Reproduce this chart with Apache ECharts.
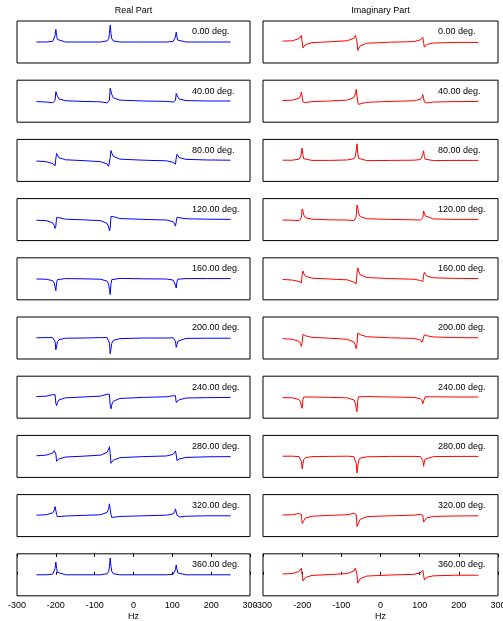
<!DOCTYPE html>
<html>
<head>
<meta charset="utf-8">
<script src="https://cdn.jsdelivr.net/npm/echarts@6/dist/echarts.min.js"></script>
<style>
html,body{margin:0;padding:0;background:#fff;}
#chart{width:503px;height:621px;}
</style>
</head>
<body>
<div id="chart"></div>
<script>
// ---- data ----
const hz = [-250,-225,-208,-204,-202,-200,-198,-196,-192,-175,-130,-85,-68,-64,-62,-60,-58,-56,-52,-35,25,85,102,106,108,110,112,114,118,135,190,250];
const xTicks = [-300,-200,-100,0,100,200,300];
const phases = [0,40,80,120,160,200,240,280,320,360];
const phaseLabels = ['0.00 deg.','40.00 deg.','80.00 deg.','120.00 deg.','160.00 deg.','200.00 deg.','240.00 deg.','280.00 deg.','320.00 deg.','360.00 deg.'];
const columnTitles = ['Real Part','Imaginary Part'];
const axisName = 'Hz';

const real0   = [0,0,0.03,0.12,0.3,0.6,0.3,0.12,0.03,0,0,0,0.05,0.16,0.4,0.8,0.4,0.16,0.05,0,0,0,0.03,0.09,0.24,0.47,0.24,0.09,0.03,0,0,0];
const real40  = [-0.02,-0.04,-0.07,-0.07,0.03,0.45,0.41,0.24,0.11,0.02,-0.01,-0.03,-0.08,-0.08,0.05,0.62,0.57,0.33,0.16,0.05,0.01,-0.01,-0.04,-0.04,0.04,0.37,0.34,0.2,0.1,0.03,0.01,0.01];
const real80  = [-0.03,-0.06,-0.15,-0.23,-0.26,0.09,0.33,0.24,0.13,0.03,-0.01,-0.06,-0.17,-0.28,-0.32,0.14,0.47,0.35,0.2,0.06,0.01,-0.02,-0.09,-0.16,-0.18,0.1,0.29,0.22,0.13,0.05,0.02,0.01];
const real120 = [-0.03,-0.05,-0.15,-0.28,-0.42,-0.31,0.1,0.14,0.09,0.02,-0.01,-0.05,-0.18,-0.35,-0.54,-0.4,0.15,0.2,0.14,0.05,0.01,-0.02,-0.1,-0.2,-0.31,-0.22,0.1,0.13,0.09,0.04,0.02,0.01];
const real160 = [-0.01,-0.02,-0.09,-0.2,-0.39,-0.57,-0.18,-0.04,0.01,0.01,0,-0.02,-0.11,-0.26,-0.51,-0.75,-0.24,-0.04,0.02,0.02,0,-0.01,-0.06,-0.15,-0.3,-0.44,-0.14,-0.02,0.02,0.01,0.01,0.01];
const real200 = [0.01,0.02,0.02,-0.03,-0.17,-0.56,-0.38,-0.19,-0.08,-0.01,0,0.02,0.02,-0.04,-0.24,-0.75,-0.51,-0.26,-0.11,-0.03,0,0,0.01,-0.03,-0.15,-0.45,-0.31,-0.16,-0.07,-0.02,-0.01,-0.01];
const real240 = [0.03,0.05,0.12,0.16,0.12,-0.29,-0.4,-0.26,-0.13,-0.03,0.01,0.05,0.14,0.19,0.14,-0.4,-0.55,-0.36,-0.19,-0.06,-0.01,0.02,0.07,0.1,0.07,-0.25,-0.33,-0.22,-0.12,-0.04,-0.02,-0.01];
const real280 = [0.03,0.06,0.16,0.27,0.36,0.12,-0.23,-0.2,-0.12,-0.03,0.01,0.06,0.19,0.34,0.46,0.14,-0.33,-0.29,-0.18,-0.06,-0.01,0.02,0.1,0.19,0.26,0.07,-0.2,-0.18,-0.12,-0.05,-0.02,-0.01];
const real320 = [0.02,0.04,0.13,0.26,0.43,0.47,0.05,-0.05,-0.05,-0.02,0.01,0.04,0.15,0.33,0.56,0.61,0.05,-0.09,-0.09,-0.04,-0.01,0.02,0.08,0.18,0.32,0.35,0.02,-0.06,-0.06,-0.03,-0.01,-0.01];
const real360 = [0,0,0.03,0.12,0.3,0.6,0.3,0.12,0.03,0,0,0,0.05,0.16,0.4,0.8,0.4,0.16,0.05,0,0,0,0.03,0.09,0.24,0.47,0.24,0.09,0.03,0,0,0];

const imag0   = [0.04,0.06,0.16,0.25,0.31,0.01,-0.29,-0.23,-0.13,-0.03,0.01,0.06,0.18,0.32,0.4,0,-0.4,-0.32,-0.19,-0.06,-0.01,0.02,0.1,0.17,0.22,-0.01,-0.25,-0.2,-0.12,-0.05,-0.02,-0.02];
const imag40  = [0.03,0.05,0.14,0.27,0.43,0.4,-0.03,-0.1,-0.07,-0.02,0.01,0.05,0.17,0.35,0.56,0.51,-0.05,-0.15,-0.12,-0.05,-0.01,0.02,0.09,0.19,0.32,0.29,-0.04,-0.09,-0.08,-0.04,-0.02,-0.01];
const imag80  = [0.01,0.01,0.06,0.16,0.35,0.59,0.25,0.08,0.01,0,0,0.02,0.08,0.21,0.46,0.79,0.32,0.1,0.01,-0.01,0,0.01,0.04,0.12,0.27,0.46,0.19,0.06,0.01,-0.01,0,0];
const imag120 = [-0.02,-0.03,-0.05,-0.02,0.1,0.51,0.4,0.22,0.09,0.02,-0.01,-0.02,-0.05,-0.02,0.15,0.69,0.55,0.3,0.14,0.04,0.01,-0.01,-0.02,-0.01,0.09,0.41,0.33,0.18,0.09,0.03,0.01,0.01];
const imag160 = [-0.03,-0.06,-0.13,-0.2,-0.19,0.19,0.37,0.25,0.13,0.03,-0.01,-0.05,-0.16,-0.24,-0.24,0.28,0.52,0.36,0.2,0.06,0.01,-0.02,-0.08,-0.13,-0.13,0.17,0.31,0.22,0.13,0.05,0.02,0.01];
const imag200 = [-0.03,-0.06,-0.16,-0.28,-0.4,-0.22,0.17,0.17,0.11,0.03,-0.01,-0.06,-0.19,-0.35,-0.51,-0.27,0.24,0.25,0.16,0.06,0.01,-0.02,-0.1,-0.2,-0.29,-0.15,0.15,0.16,0.11,0.05,0.02,0.01];
const imag240 = [-0.02,-0.03,-0.11,-0.23,-0.42,-0.53,-0.12,0.01,0.03,0.01,-0.01,-0.03,-0.13,-0.3,-0.54,-0.69,-0.14,0.02,0.06,0.03,0.01,-0.01,-0.07,-0.17,-0.31,-0.4,-0.08,0.02,0.04,0.02,0.01,0.01];
const imag280 = [0.01,0.01,-0.01,-0.07,-0.24,-0.59,-0.35,-0.16,-0.06,-0.01,0,0.01,-0.01,-0.1,-0.33,-0.79,-0.46,-0.21,-0.08,-0.02,0,0,-0.01,-0.06,-0.19,-0.47,-0.27,-0.13,-0.05,-0.01,0,0];
const imag320 = [0.03,0.04,0.1,0.12,0.05,-0.38,-0.41,-0.25,-0.12,-0.03,0.01,0.04,0.11,0.14,0.05,-0.52,-0.57,-0.35,-0.18,-0.05,-0.01,0.02,0.06,0.07,0.02,-0.31,-0.34,-0.22,-0.11,-0.04,-0.02,-0.01];
const imag360 = [0.04,0.06,0.16,0.25,0.31,0.01,-0.29,-0.23,-0.13,-0.03,0.01,0.06,0.18,0.32,0.4,0,-0.4,-0.32,-0.19,-0.06,-0.01,0.02,0.1,0.17,0.22,-0.01,-0.25,-0.2,-0.12,-0.05,-0.02,-0.02];

const realSeries = [real0,real40,real80,real120,real160,real200,real240,real280,real320,real360];
const imagSeries = [imag0,imag40,imag80,imag120,imag160,imag200,imag240,imag280,imag320,imag360];

// ---- layout ----
const colLeft = [17, 263];
const colWidth = [233, 235];
const colColor = ['#0000ff', '#ff0000'];
const rowTop0 = 21, rowPitch = 59.2, rowH = 42;
const FONT = '"Liberation Sans", Arial, Helvetica, sans-serif';

const grids = [], xAxes = [], yAxes = [], series = [], graphics = [];
const nRows = phases.length;
let gi = 0;
for (let c = 0; c < 2; c++) {
  const data = c === 0 ? realSeries : imagSeries;
  graphics.push({
    type: 'text', x: colLeft[c] + colWidth[c] / 2, y: 11,
    style: { text: columnTitles[c], fill: '#000', font: '9px ' + FONT, textAlign: 'center', textVerticalAlign: 'middle', align: 'center', verticalAlign: 'middle' }
  });
  for (let r = 0; r < nRows; r++) {
    const top = rowTop0 + rowPitch * r;
    const isBottom = r === nRows - 1;
    grids.push({ left: colLeft[c], top: top, width: colWidth[c], height: rowH, show: true, borderColor: '#000', borderWidth: 1, backgroundColor: 'transparent', containLabel: false, outerBoundsMode: 'none' });
    const xIdx = xAxes.length;
    xAxes.push({
      type: 'value', gridIndex: gi, min: xTicks[0], max: xTicks[xTicks.length - 1], interval: 100,
      position: 'bottom',
      axisLine: { show: false },
      splitLine: { show: false },
      axisTick: { show: isBottom, inside: true, length: 3, lineStyle: { color: '#000' } },
      axisLabel: { show: isBottom, color: '#000', fontSize: 9, fontFamily: FONT, margin: 5, showMinLabel: true, showMaxLabel: true, hideOverlap: false },
      name: isBottom ? axisName : '', nameLocation: 'middle', nameGap: 16,
      nameTextStyle: { color: '#000', fontSize: 9, fontFamily: FONT }
    });
    if (isBottom) {
      xAxes.push({
        type: 'value', gridIndex: gi, min: xTicks[0], max: xTicks[xTicks.length - 1], interval: 100,
        position: 'top', axisLine: { show: false }, splitLine: { show: false },
        axisTick: { show: true, inside: true, length: 3, lineStyle: { color: '#000' } },
        axisLabel: { show: false }
      });
    }
    yAxes.push({ type: 'value', gridIndex: gi, min: -1, max: 1, show: false, splitLine: { show: false } });
    series.push({
      type: 'line', xAxisIndex: xIdx, yAxisIndex: gi,
      data: hz.map((h, k) => [h, data[r][k]]),
      showSymbol: false, symbol: 'none', silent: true,
      lineStyle: { color: colColor[c], width: 1 },
      animation: false
    });
    graphics.push({
      type: 'text', x: colLeft[c] + 175, y: top + 11,
      style: { text: phaseLabels[r], fill: '#000', font: '9px ' + FONT, textAlign: 'left', textVerticalAlign: 'middle', align: 'left', verticalAlign: 'middle' }
    });
    gi++;
  }
}

const chart = echarts.init(document.getElementById('chart'), null, { renderer: 'canvas' });
chart.setOption({
  animation: false,
  backgroundColor: '#fff',
  grid: grids, xAxis: xAxes, yAxis: yAxes, series: series,
  graphic: graphics
});
</script>
</body>
</html>
